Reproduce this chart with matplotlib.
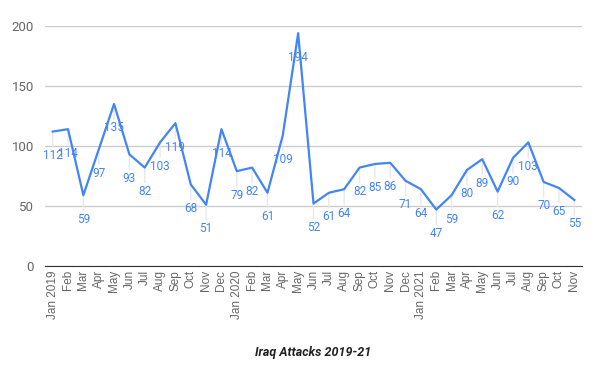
import matplotlib.pyplot as plt

months = ['Jan 2019', 'Feb', 'Mar', 'Apr', 'May', 'Jun', 'Jul', 'Aug', 'Sep', 'Oct', 'Nov', 'Dec',
          'Jan 2020', 'Feb', 'Mar', 'Apr', 'May', 'Jun', 'Jul', 'Aug', 'Sep', 'Oct', 'Nov', 'Dec',
          'Jan 2021', 'Feb', 'Mar', 'Apr', 'May', 'Jun', 'Jul', 'Aug', 'Sep', 'Oct', 'Nov']
attacks = [112, 114, 59, 97, 135, 93, 82, 103, 119, 68, 51, 114,
           79, 82, 61, 109, 194, 52, 61, 64, 82, 85, 86, 71,
           64, 47, 59, 80, 89, 62, 90, 103, 70, 65, 55]

plt.rcParams['font.family'] = ['Roboto', 'DejaVu Sans']
blue = '#4285F4'

fig = plt.figure(figsize=(6, 3.76), dpi=100)
ax = fig.add_axes([0.075, 0.2926, 0.895, 0.6383])
x = list(range(len(attacks)))

for i, v in zip(x, attacks):
    ax.annotate('', xy=(i, v), xytext=(0, -15), textcoords='offset pixels',
                arrowprops=dict(arrowstyle='-', color='#e8e8e8', lw=1, shrinkA=0, shrinkB=0))
ax.plot(x, attacks, color=blue, lw=1.6, zorder=3, clip_on=False)
for i, v in zip(x, attacks):
    ax.annotate(str(v), xy=(i, v), xytext=(0, -24), textcoords='offset pixels',
                ha='center', va='center', color=blue, fontsize=8.5, zorder=4)

ax.set_xlim(-0.5, len(attacks) - 0.5)
ax.set_ylim(0, 200)
ax.set_yticks([0, 50, 100, 150, 200])
ax.set_xticks(x)
ax.set_xticklabels(months, rotation=90, fontsize=8.5, color='#666666', family='Liberation Sans')
ax.tick_params(axis='y', labelsize=9.5, colors='#666666', length=0, pad=8)
ax.tick_params(axis='x', length=0, pad=3)
ax.grid(axis='y', color='#cccccc', lw=1)
ax.set_axisbelow(True)
for s in ['top', 'right', 'left']:
    ax.spines[s].set_visible(False)
ax.spines['bottom'].set_color('#333333')
ax.spines['bottom'].set_zorder(2)

fig.text(0.522, 0.063, 'Iraq Attacks 2019-21', ha='center', va='center',
         fontsize=9, fontweight='bold', style='italic', color='#222222')

fig.savefig('out.png', dpi=100)
